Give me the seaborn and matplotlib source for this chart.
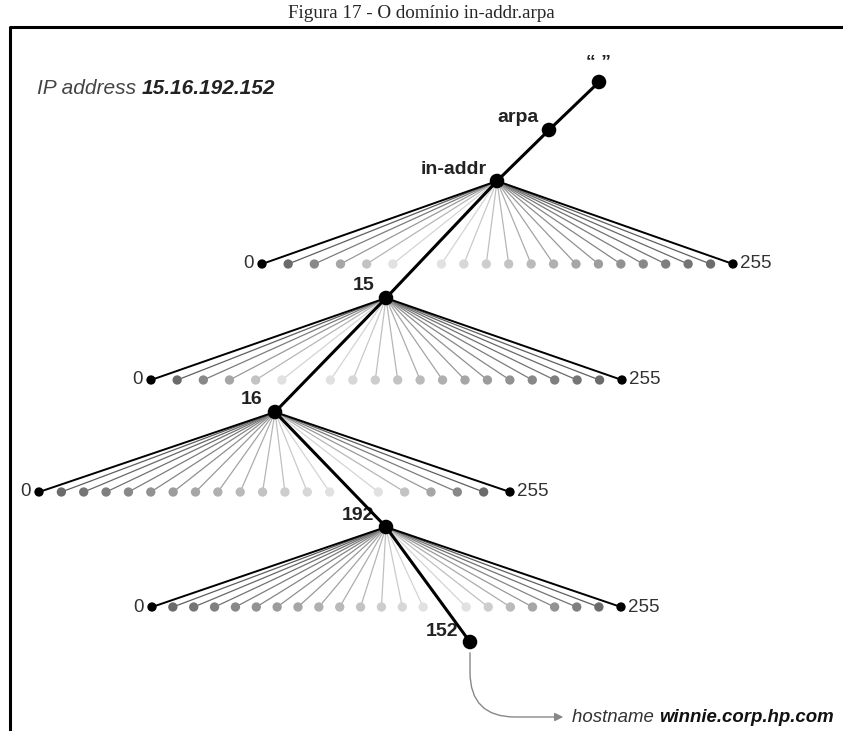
import numpy as np
import pandas as pd
import matplotlib
matplotlib.use("Agg")
import matplotlib.pyplot as plt
from matplotlib.patches import FancyArrowPatch
import seaborn as sns

# tree data
path_labels = ["“ ”", "arpa", "in-addr", "15", "16", "192", "152"]
ip_address = "15.16.192.152"
hostname = "winnie.corp.hp.com"
leaf_first = "0"
leaf_last = "255"
# dots drawn on each side of the gap where the path crosses a row
left_counts = [6, 6, 14, 14]
right_counts = [14, 14, 6, 8]

# layout (pixel space)
path_x = [599, 549, 497, 386, 275, 386, 470]
path_y = [82, 130, 181, 298, 412, 527, 642]
fan_nodes = [2, 3, 4, 5]
row_y = [264, 380, 492, 607]
row_left = [262, 151, 39, 152]
row_gap = [419, 308, 352, 444]
row_right = [733, 622, 510, 621]

sns.set_theme(style="white")
plt.rcParams["font.family"] = ["Liberation Sans", "DejaVu Sans"]

fig = plt.figure(figsize=(8.43, 7.31), dpi=100)
ax = fig.add_axes([0, 0, 1, 1])

fig.text(0.5, 1 - 14 / 731, "Figura 17 - O domínio in-addr.arpa", ha="center", va="center",
         fontsize=13.7, family="Liberation Serif")

# frame (left and top only, the rest is cut off)
ax.plot([10, 10, 843], [731, 27, 27], color="black", lw=2.2, clip_on=False)


def shades(n, outer_first=True):
    g = [0.0] + list(np.linspace(0.42, 0.88, n - 1))
    return g if outer_first else g[::-1]


rows = []
for i, node in enumerate(fan_nodes):
    nl, nr = left_counts[i], right_counts[i]
    step_l = (row_gap[i] - row_left[i]) / nl
    step_r = (row_right[i] - row_gap[i]) / nr
    xl = row_left[i] + step_l * np.arange(nl)
    xr = row_right[i] - step_r * np.arange(nr)[::-1]
    xs = np.concatenate([xl, xr])
    gs = shades(nl) + shades(nr, outer_first=False)
    for x, g in zip(xs, gs):
        rows.append({"fan": i, "x": x, "y": row_y[i], "shade": g,
                     "nx": path_x[node], "ny": path_y[node]})
leaves = pd.DataFrame(rows)

# fan edges, lightest first so the dark outer ones sit on top
for _, r in leaves.sort_values("shade", ascending=False).iterrows():
    lw = 1.4 if r["shade"] == 0 else 0.9
    ax.plot([r["nx"], r["x"]], [r["ny"], r["y"]], color=str(max(r["shade"] - 0.05, 0)),
            lw=lw, solid_capstyle="round", zorder=1)

sns.scatterplot(data=leaves, x="x", y="y", hue="shade", palette="gray", hue_norm=(0, 1),
                s=45, edgecolor="none", legend=False, ax=ax, zorder=3)

for i in range(len(row_y)):
    ax.text(row_left[i] - 8, row_y[i], leaf_first, ha="right", va="center", fontsize=13.5,
            color="#333333")
    ax.text(row_right[i] + 7, row_y[i], leaf_last, ha="left", va="center", fontsize=13.5,
            color="#333333")

# main path
path = pd.DataFrame({"x": path_x, "y": path_y})
sns.lineplot(data=path, x="x", y="y", sort=False, estimator=None, color="black", lw=2.2,
             ax=ax, zorder=4)
sns.scatterplot(data=path, x="x", y="y", color="black", s=110, edgecolor="none",
                legend=False, ax=ax, zorder=5)

label_off = [(0, -19), (-10, -12), (-10, -12), (-12, -12), (-12, -12), (-12, -12), (-12, -10)]
for lab, x, y, (dx, dy) in zip(path_labels, path_x, path_y, label_off):
    ha = "center" if dx == 0 else "right"
    ax.text(x + dx, y + dy, lab, ha=ha, va="center", fontsize=14, fontweight="bold",
            color="#222222")

ip = ax.text(37, 88, "IP address ", ha="left", va="center", fontsize=15, style="italic",
             color="#444444")
ax.annotate(ip_address, xy=(1, 0.5), xycoords=ip, ha="left", va="center", fontsize=15,
            style="italic", fontweight="bold", color="#222222")

arrow = FancyArrowPatch((470, 650), (566, 717), arrowstyle="-|>,head_length=5,head_width=2.5",
                        connectionstyle="angle,angleA=-90,angleB=180,rad=45",
                        color="#888888", lw=1.0, zorder=2)
ax.add_patch(arrow)
hn = ax.text(572, 717, "hostname ", ha="left", va="center", fontsize=13.4, style="italic",
             color="#333333")
ax.annotate(hostname, xy=(1, 0.5), xycoords=hn, ha="left", va="center", fontsize=13.4,
            style="italic", fontweight="bold", color="#111111", annotation_clip=False)

ax.set_xlim(0, 843)
ax.set_ylim(731, 0)
ax.axis("off")

fig.savefig("out.png", dpi=100)
